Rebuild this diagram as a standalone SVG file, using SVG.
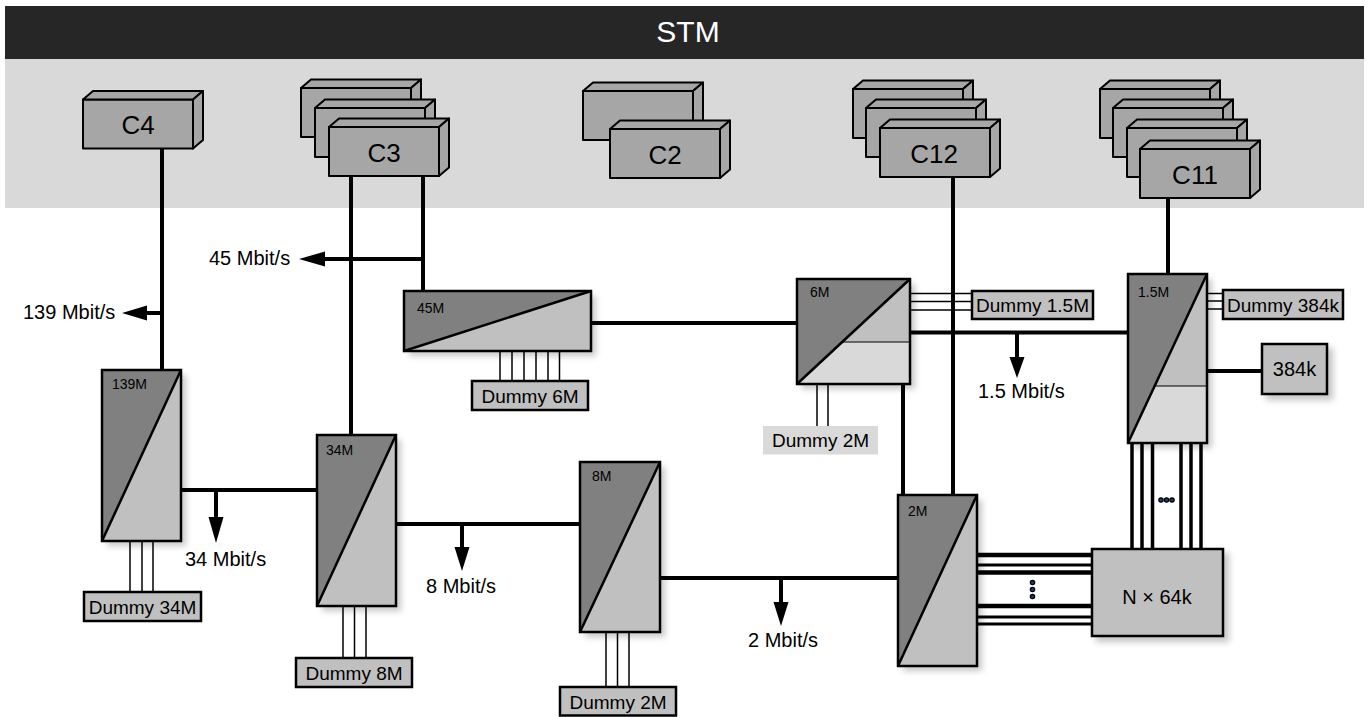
<svg xmlns="http://www.w3.org/2000/svg" width="1369" height="717" viewBox="0 0 1369 717">
<style>
.t{font-family:"Liberation Sans",Arial,sans-serif;fill:#000}
.conn{stroke:#000;stroke-width:4;fill:none}
.bus{stroke:#000;stroke-width:3.5;fill:none}
.thin{stroke:#000;stroke-width:1.5;fill:none}
.cb{fill:#a6a6a6;stroke:#000;stroke-width:2;stroke-linejoin:round}
.dk{fill:#808080}
.lt{fill:#c0c0c0}
.lt2{fill:#d9d9d9}
.frame{fill:none;stroke:#000;stroke-width:2.5}
.diag{stroke:#000;stroke-width:2.5}
.div{stroke:#000;stroke-width:1.2}
.dummy{fill:#c0c0c0;stroke:#000;stroke-width:2.5}
.lbl{font-size:14px}
.rate{font-size:20px}
.dl{font-size:19px}
.cl{font-size:26px}
.arr{fill:#000}
.dot{fill:#1f3a68;stroke:#000;stroke-width:1.2}
</style>
<defs>
<filter id="sh" x="-20%" y="-20%" width="150%" height="150%">
<feDropShadow dx="5" dy="5" stdDeviation="3" flood-color="#000" flood-opacity="0.22"/>
</filter>
<g id="cbox">
<rect class="cb" x="0" y="0" width="110" height="49"/>
<polygon class="cb" points="0,0 10,-8.5 120,-8.5 110,0"/>
<polygon class="cb" points="110,0 120,-8.5 120,40.5 110,49"/>
</g>
</defs>

<g id="stm-band">
<rect x="5" y="59" width="1359" height="149" fill="#d9d9d9"/>
<rect x="5" y="6" width="1359" height="53" fill="#262626"/>
<text class="t" x="688" y="42" font-size="30" text-anchor="middle" style="fill:#fff">STM</text>
</g>

<g id="connectors">
<!-- C4 to 139M -->
<line class="conn" x1="162" y1="149" x2="162" y2="370"/>
<line class="conn" x1="162" y1="313" x2="145" y2="313"/>
<polygon class="arr" points="122,313 147,305.5 147,320.5"/>
<!-- C3 to 34M and 45M -->
<line class="conn" x1="351" y1="176" x2="351" y2="435"/>
<line class="conn" x1="423" y1="176" x2="423" y2="291"/>
<line class="conn" x1="425" y1="259" x2="323" y2="259"/>
<polygon class="arr" points="299,259 325,251.5 325,266.5"/>
<!-- 45M to 6M -->
<line class="conn" x1="591" y1="323" x2="797" y2="323"/>
<!-- 139M to 34M -->
<line class="conn" x1="181" y1="490" x2="317" y2="490"/>
<line class="conn" x1="216" y1="490" x2="216" y2="519"/>
<polygon class="arr" points="208.5,517 223.5,517 216,543"/>
<!-- 34M to 8M -->
<line class="conn" x1="396" y1="524" x2="580" y2="524"/>
<line class="conn" x1="462" y1="524" x2="462" y2="549"/>
<polygon class="arr" points="454.5,547 469.5,547 462,571"/>
<!-- 8M to 2M -->
<line class="conn" x1="660" y1="578" x2="898" y2="578"/>
<line class="conn" x1="781" y1="578" x2="781" y2="604"/>
<polygon class="arr" points="773.5,602 788.5,602 781,626"/>
<!-- 6M to 2M, C12 to 2M -->
<line class="conn" x1="903" y1="384" x2="903" y2="495"/>
<!-- 6M to 1.5M -->
<line class="conn" x1="910" y1="332.5" x2="1128" y2="332.5"/>
<line class="conn" x1="1017" y1="332.5" x2="1017" y2="359"/>
<polygon class="arr" points="1009.5,357 1024.5,357 1017,378"/>
<!-- dummy 1.5M lines -->
<line class="thin" x1="910" y1="293.5" x2="972" y2="293.5"/>
<line class="thin" x1="910" y1="301.5" x2="972" y2="301.5"/>
<line class="thin" x1="910" y1="310" x2="972" y2="310"/>
<line class="conn" x1="953" y1="176" x2="953" y2="495"/>
<!-- C11 to 1.5M -->
<line class="conn" x1="1168" y1="197" x2="1168" y2="274"/>
<!-- 1.5M to 384k -->
<line class="conn" x1="1207" y1="371" x2="1262" y2="371"/>
<!-- 1.5M to N x 64k -->
<line class="bus" x1="1132" y1="443" x2="1132" y2="549"/>
<line class="bus" x1="1142" y1="443" x2="1142" y2="549"/>
<line class="bus" x1="1152.5" y1="443" x2="1152.5" y2="549"/>
<line class="bus" x1="1181" y1="443" x2="1181" y2="549"/>
<line class="bus" x1="1191" y1="443" x2="1191" y2="549"/>
<line class="bus" x1="1201" y1="443" x2="1201" y2="549"/>
<circle class="dot" cx="1161" cy="500" r="2.2"/>
<circle class="dot" cx="1166.5" cy="500" r="2.2"/>
<circle class="dot" cx="1172" cy="500" r="2.2"/>
<!-- 2M to N x 64k -->
<line class="conn" x1="977" y1="555" x2="1092" y2="555" style="stroke-width:4.5"/>
<line class="conn" x1="977" y1="565" x2="1092" y2="565" style="stroke-width:3"/>
<line class="conn" x1="977" y1="572.5" x2="1092" y2="572.5" style="stroke-width:4.5"/>
<line class="conn" x1="977" y1="606" x2="1092" y2="606" style="stroke-width:4.5"/>
<line class="conn" x1="977" y1="617" x2="1092" y2="617" style="stroke-width:3"/>
<line class="conn" x1="977" y1="624" x2="1092" y2="624" style="stroke-width:3"/>
<circle class="dot" cx="1032.5" cy="582.5" r="2.2"/>
<circle class="dot" cx="1032.5" cy="589.5" r="2.2"/>
<circle class="dot" cx="1032.5" cy="596.5" r="2.2"/>
<!-- dummy channel lines -->
<line class="thin" x1="130" y1="541" x2="130" y2="592"/>
<line class="thin" x1="142" y1="541" x2="142" y2="592"/>
<line class="thin" x1="153" y1="541" x2="153" y2="592"/>
<line class="thin" x1="343" y1="606" x2="343" y2="658"/>
<line class="thin" x1="354.5" y1="606" x2="354.5" y2="658"/>
<line class="thin" x1="366" y1="606" x2="366" y2="658"/>
<line class="thin" x1="606" y1="632" x2="606" y2="687"/>
<line class="thin" x1="617.5" y1="632" x2="617.5" y2="687"/>
<line class="thin" x1="629" y1="632" x2="629" y2="687"/>
<line class="thin" x1="500" y1="351" x2="500" y2="381"/>
<line class="thin" x1="512" y1="351" x2="512" y2="381"/>
<line class="thin" x1="524" y1="351" x2="524" y2="381"/>
<line class="thin" x1="536" y1="351" x2="536" y2="381"/>
<line class="thin" x1="548" y1="351" x2="548" y2="381"/>
<line class="thin" x1="559.5" y1="351" x2="559.5" y2="381"/>
<line class="thin" x1="817" y1="384" x2="817" y2="426"/>
<line class="thin" x1="828" y1="384" x2="828" y2="426"/>
<line class="thin" x1="1207" y1="293.5" x2="1223" y2="293.5"/>
<line class="thin" x1="1207" y1="301" x2="1223" y2="301"/>
<line class="thin" x1="1207" y1="309" x2="1223" y2="309"/>
</g>

<g id="rate-labels">
<text class="t rate" x="209" y="265">45 Mbit/s</text>
<text class="t rate" x="23" y="319">139 Mbit/s</text>
<text class="t rate" x="185" y="566">34 Mbit/s</text>
<text class="t rate" x="426" y="593">8 Mbit/s</text>
<text class="t rate" x="748" y="647">2 Mbit/s</text>
<text class="t rate" x="978" y="398">1.5 Mbit/s</text>
</g>

<g id="C4">
<use href="#cbox" x="83" y="99.5"/>
<text class="t cl" x="138" y="134" text-anchor="middle">C4</text>
</g>
<g id="C3">
<use href="#cbox" x="301" y="88"/>
<use href="#cbox" x="315" y="108"/>
<use href="#cbox" x="329" y="127"/>
<text class="t cl" x="384" y="162" text-anchor="middle">C3</text>
</g>
<g id="C2">
<use href="#cbox" x="583" y="91"/>
<use href="#cbox" x="610" y="129"/>
<text class="t cl" x="665" y="164" text-anchor="middle">C2</text>
</g>
<g id="C12">
<use href="#cbox" x="853" y="89"/>
<use href="#cbox" x="866" y="108"/>
<use href="#cbox" x="880" y="128"/>
<text class="t cl" x="934" y="163" text-anchor="middle">C12</text>
</g>
<g id="C11">
<use href="#cbox" x="1100" y="89"/>
<use href="#cbox" x="1113" y="108"/>
<use href="#cbox" x="1127" y="128"/>
<use href="#cbox" x="1140" y="149"/>
<text class="t cl" x="1195" y="184" text-anchor="middle">C11</text>
</g>

<g id="mux139M">
<rect class="lt" x="102" y="370" width="79" height="171" filter="url(#sh)"/>
<polygon class="dk" points="102,541 102,370 181,370"/>
<rect class="frame" x="102" y="370" width="79" height="171"/>
<line class="diag" x1="102" y1="541" x2="181" y2="370"/>
<text class="t lbl" x="112" y="389">139M</text>
</g>
<g id="mux34M">
<rect class="lt" x="317" y="435" width="79" height="171" filter="url(#sh)"/>
<polygon class="dk" points="317,606 317,435 396,435"/>
<rect class="frame" x="317" y="435" width="79" height="171"/>
<line class="diag" x1="317" y1="606" x2="396" y2="435"/>
<text class="t lbl" x="326" y="455">34M</text>
</g>
<g id="mux8M">
<rect class="lt" x="580" y="462" width="80" height="170" filter="url(#sh)"/>
<polygon class="dk" points="580,632 580,462 660,462"/>
<rect class="frame" x="580" y="462" width="80" height="170"/>
<line class="diag" x1="580" y1="632" x2="660" y2="462"/>
<text class="t lbl" x="592" y="481">8M</text>
</g>
<g id="mux2M">
<rect class="lt" x="898" y="495" width="79" height="171" filter="url(#sh)"/>
<polygon class="dk" points="898,666 898,495 977,495"/>
<rect class="frame" x="898" y="495" width="79" height="171"/>
<line class="diag" x1="898" y1="666" x2="977" y2="495"/>
<text class="t lbl" x="908" y="516">2M</text>
</g>
<g id="mux45M">
<rect class="lt" x="404" y="291" width="187" height="60" filter="url(#sh)"/>
<polygon class="dk" points="404,351 404,291 591,291"/>
<rect class="frame" x="404" y="291" width="187" height="60"/>
<line class="diag" x1="404" y1="351" x2="591" y2="291"/>
<text class="t lbl" x="417" y="313">45M</text>
</g>
<g id="mux6M">
<rect class="lt2" x="797" y="279" width="113" height="105" filter="url(#sh)"/>
<polygon class="lt" points="910,279 910,342 842.2,342"/>
<polygon class="dk" points="797,384 797,279 910,279"/>
<line class="div" x1="842" y1="342" x2="910" y2="342"/>
<rect class="frame" x="797" y="279" width="113" height="105"/>
<line class="diag" x1="797" y1="384" x2="910" y2="279"/>
<text class="t lbl" x="810" y="297">6M</text>
</g>
<g id="mux1-5M">
<rect class="lt2" x="1128" y="274" width="79" height="169" filter="url(#sh)"/>
<polygon class="lt" points="1207,274 1207,386 1154.6,386"/>
<polygon class="dk" points="1128,443 1128,274 1207,274"/>
<line class="div" x1="1154" y1="386" x2="1207" y2="386"/>
<rect class="frame" x="1128" y="274" width="79" height="169"/>
<line class="diag" x1="1128" y1="443" x2="1207" y2="274"/>
<text class="t lbl" x="1138" y="297">1.5M</text>
</g>

<g id="n64k">
<rect x="1092" y="549" width="131" height="87" fill="#c0c0c0" stroke="#000" stroke-width="2.5" filter="url(#sh)"/>
<text class="t rate" x="1157" y="604" text-anchor="middle">N × 64k</text>
</g>
<g id="b384k">
<rect x="1262" y="344" width="65" height="50" fill="#c0c0c0" stroke="#000" stroke-width="2.5" filter="url(#sh)"/>
<text class="t rate" x="1294.5" y="376" text-anchor="middle">384k</text>
</g>

<g id="dummy34M">
<rect class="dummy" x="84" y="592" width="117" height="29"/>
<text class="t dl" x="142.5" y="614" text-anchor="middle">Dummy 34M</text>
</g>
<g id="dummy8M">
<rect class="dummy" x="296" y="658" width="116" height="29"/>
<text class="t dl" x="354" y="680" text-anchor="middle">Dummy 8M</text>
</g>
<g id="dummy2M-a">
<rect class="dummy" x="560" y="687" width="116" height="28.5"/>
<text class="t dl" x="618" y="709" text-anchor="middle">Dummy 2M</text>
</g>
<g id="dummy6M">
<rect class="dummy" x="472" y="381" width="116" height="29"/>
<text class="t dl" x="530" y="403" text-anchor="middle">Dummy 6M</text>
</g>
<g id="dummy1-5M">
<rect class="dummy" x="972" y="291" width="121" height="28"/>
<text class="t dl" x="1032.5" y="312" text-anchor="middle">Dummy 1.5M</text>
</g>
<g id="dummy384k">
<rect class="dummy" x="1223" y="290" width="120" height="29"/>
<text class="t dl" x="1283" y="311.5" text-anchor="middle">Dummy 384k</text>
</g>
<g id="dummy2M-b">
<rect x="763" y="426" width="115" height="28.5" fill="#d9d9d9"/>
<text class="t dl" x="820.5" y="447" text-anchor="middle">Dummy 2M</text>
</g>
</svg>
